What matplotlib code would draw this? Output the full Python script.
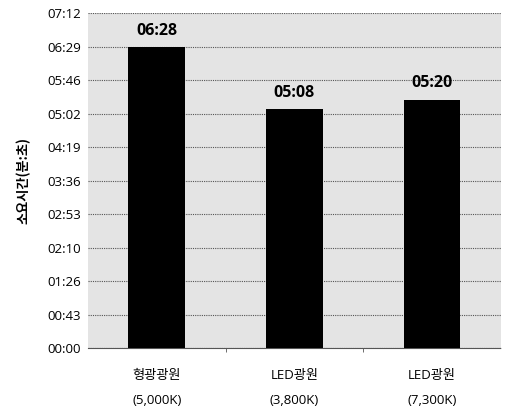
import matplotlib.pyplot as plt
from matplotlib.ticker import FixedLocator, FuncFormatter

plt.rcParams['font.family'] = ['Open Sans', 'Noto Sans CJK KR', 'DejaVu Sans']

# 데이터 (초 단위)
categories = ['형광광원\n(5,000K)', 'LED광원\n(3,800K)', 'LED광원\n(7,300K)']
seconds = [388, 308, 320]
labels = ['06:28', '05:08', '05:20']
y_ticks = [0, 43.2, 86.4, 129.6, 172.8, 216, 259.2, 302.4, 345.6, 388.8, 432]


def mmss(v, pos=None):
    s = int(round(v))
    return '%02d:%02d' % (s // 60, s % 60)


fig = plt.figure(figsize=(5.05, 4.12), dpi=100)
ax = fig.add_axes([0.174, 0.155, 0.818, 0.813])
ax.set_facecolor('#e4e4e4')

x = range(len(categories))
ax.bar(x, seconds, width=0.41, color='black', zorder=3)
for i in x:
    ax.text(i, seconds[i] + 11, labels[i], ha='center', va='bottom',
            fontsize=11.5, fontweight='bold', zorder=4)

ax.set_xlim(-0.5, 2.5)
ax.set_ylim(0, 432)
ax.yaxis.set_major_locator(FixedLocator(y_ticks))
ax.yaxis.set_major_formatter(FuncFormatter(mmss))
ax.grid(axis='y', color='#555555', linestyle=(0, (1, 1)), linewidth=0.8, zorder=1)

ax.set_xticks(x)
ax.set_xticklabels(categories, fontsize=9.5, linespacing=2.2)
ax.set_xticks([0.5, 1.5], minor=True)
ax.tick_params(axis='x', which='major', length=0, pad=15)
ax.tick_params(axis='x', which='minor', length=3, color='#555555')
ax.tick_params(axis='y', length=0, labelsize=9.5, pad=5)

for side in ['top', 'right', 'left']:
    ax.spines[side].set_visible(False)
ax.spines['bottom'].set_color('#555555')
ax.spines['bottom'].set_linestyle((0, (1, 1)))

ax.set_ylabel('소요시간(분:초)', family=['Noto Sans CJK KR', 'DejaVu Sans'],
              fontsize=9.5, fontweight='bold', labelpad=12)

fig.savefig('out.png', dpi=100)
